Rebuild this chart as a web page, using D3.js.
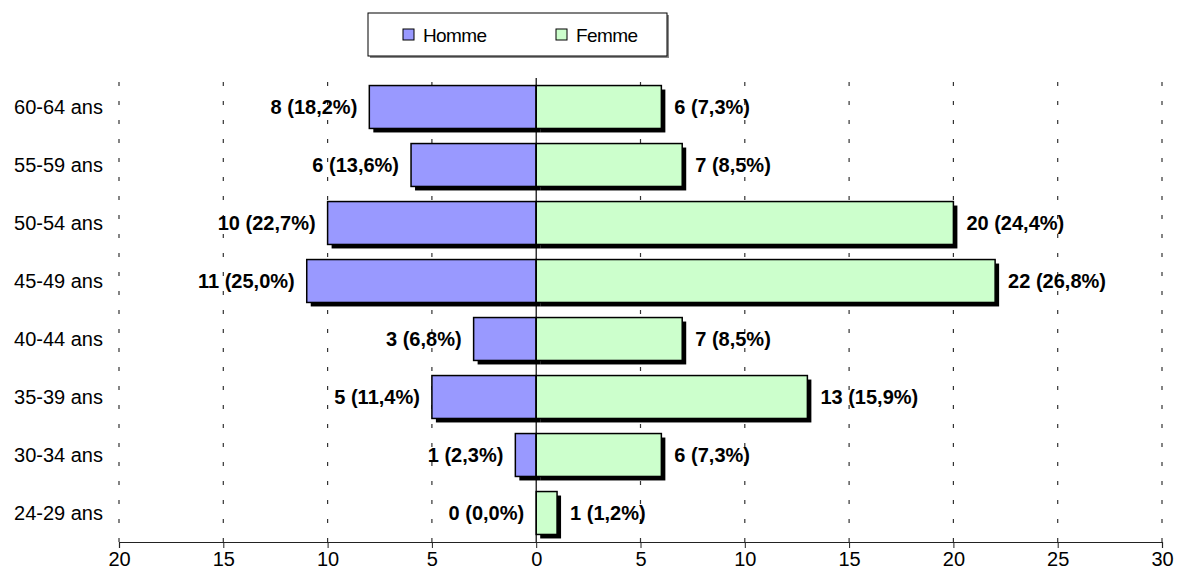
<!DOCTYPE html>
<html>
<head>
<meta charset="utf-8">
<script src="https://cdn.jsdelivr.net/npm/d3@7"></script>
<style>
  body { margin: 0; background: #fff; }
  svg { display: block; font-family: "Liberation Sans", Arial, sans-serif; }
</style>
</head>
<body>
<svg id="chart" width="1177" height="581"></svg>
<script>
// Age groups, top to bottom
const categories = ["60-64 ans", "55-59 ans", "50-54 ans", "45-49 ans", "40-44 ans", "35-39 ans", "30-34 ans", "24-29 ans"];
// Counts and shares per sex
const homme = [8, 6, 10, 11, 3, 5, 1, 0];
const hommePct = ["18,2", "13,6", "22,7", "25,0", "6,8", "11,4", "2,3", "0,0"];
const femme = [6, 7, 20, 22, 7, 13, 6, 1];
const femmePct = ["7,3", "8,5", "24,4", "26,8", "8,5", "15,9", "7,3", "1,2"];
// Axis ticks (men to the left as negatives)
const tickValues = [-20, -15, -10, -5, 0, 5, 10, 15, 20, 25, 30];
const seriesNames = ["Homme", "Femme"];
const colors = ["#9999FF", "#CCFFCC"];

const svg = d3.select("#chart");
const plotLeft = 119, plotRight = 1162, plotTop = 78, plotBottom = 542;
const fontSize = 20;

const x = d3.scaleLinear().domain([-20, 30]).range([plotLeft, plotRight]);
const y = d3.scaleBand().domain(categories).range([plotTop, plotBottom]).paddingInner(0.26).paddingOuter(0.13);

// Dashed vertical gridlines
svg.append("g").selectAll("line")
  .data(tickValues.filter(d => d !== 0))
  .join("line")
  .attr("x1", d => x(d)).attr("x2", d => x(d))
  .attr("y1", plotTop).attr("y2", plotBottom)
  .attr("stroke", "#333").attr("stroke-width", 1.2)
  .attr("stroke-dasharray", "4,15").attr("stroke-dashoffset", -4);

// Bottom axis
const axis = d3.axisBottom(x).tickValues(tickValues).tickFormat(d => Math.abs(d)).tickSize(6).tickPadding(4);
const ax = svg.append("g").attr("transform", `translate(0,${plotBottom})`).call(axis);
ax.select(".domain").attr("stroke", "#222").attr("stroke-width", 1.2);
ax.selectAll(".tick line").attr("stroke", "#222");
ax.selectAll("text").attr("font-size", fontSize).attr("fill", "#000")
  .attr("font-family", "'Liberation Sans', Arial, sans-serif");

const rows = categories.map((c, i) => ({ c, h: homme[i], hp: hommePct[i], f: femme[i], fp: femmePct[i] }));

// Shadows
const sh = svg.append("g").attr("fill", "#000");
sh.selectAll(".sh").data(rows.filter(d => d.h > 0)).join("rect").attr("class", "sh")
  .attr("x", d => x(-d.h) + 4).attr("y", d => y(d.c) + 4)
  .attr("width", d => x(0) - x(-d.h)).attr("height", y.bandwidth());
sh.selectAll(".sf").data(rows.filter(d => d.f > 0)).join("rect").attr("class", "sf")
  .attr("x", d => x(0) + 4).attr("y", d => y(d.c) + 4)
  .attr("width", d => x(d.f) - x(0)).attr("height", y.bandwidth());

// Bars
const bars = svg.append("g").attr("stroke", "#000").attr("stroke-width", 1.5);
bars.selectAll(".bh").data(rows.filter(d => d.h > 0)).join("rect").attr("class", "bh")
  .attr("fill", colors[0])
  .attr("x", d => x(-d.h)).attr("y", d => y(d.c))
  .attr("width", d => x(0) - x(-d.h)).attr("height", y.bandwidth());
bars.selectAll(".bf").data(rows.filter(d => d.f > 0)).join("rect").attr("class", "bf")
  .attr("fill", colors[1])
  .attr("x", x(0)).attr("y", d => y(d.c))
  .attr("width", d => x(d.f) - x(0)).attr("height", y.bandwidth());

// Zero line
svg.append("line").attr("x1", x(0)).attr("x2", x(0)).attr("y1", plotTop).attr("y2", plotBottom)
  .attr("stroke", "#000").attr("stroke-width", 1.2);

// Category labels
svg.append("g").selectAll("text").data(categories).join("text")
  .attr("x", 103).attr("y", d => y(d) + y.bandwidth() / 2)
  .attr("dy", "0.36em").attr("text-anchor", "end")
  .attr("font-size", fontSize).text(d => d);

// Value labels
const lab = svg.append("g").attr("font-size", fontSize).attr("font-weight", "bold");
lab.selectAll(".lh").data(rows).join("text").attr("class", "lh")
  .attr("x", d => x(-d.h) - 12).attr("y", d => y(d.c) + y.bandwidth() / 2)
  .attr("dy", "0.36em").attr("text-anchor", "end")
  .text(d => `${d.h} (${d.hp}%)`);
lab.selectAll(".lf").data(rows).join("text").attr("class", "lf")
  .attr("x", d => x(d.f) + 13).attr("y", d => y(d.c) + y.bandwidth() / 2)
  .attr("dy", "0.36em").attr("text-anchor", "start")
  .text(d => `${d.f} (${d.fp}%)`);

// Legend
const lg = svg.append("g");
lg.append("rect").attr("x", 370).attr("y", 15).attr("width", 299).attr("height", 43).attr("fill", "#888");
lg.append("rect").attr("x", 368).attr("y", 13).attr("width", 299).attr("height", 43)
  .attr("fill", "#fff").attr("stroke", "#000").attr("stroke-width", 1);
const lx = [403, 556];
seriesNames.forEach((n, i) => {
  lg.append("rect").attr("x", lx[i]).attr("y", 29).attr("width", 11).attr("height", 11)
    .attr("fill", colors[i]).attr("stroke", "#000").attr("stroke-width", 1);
  lg.append("text").attr("x", lx[i] + 20).attr("y", 35).attr("dy", "0.36em")
    .attr("font-size", 19).attr("letter-spacing", -0.6).text(n);
});
</script>
</body>
</html>
